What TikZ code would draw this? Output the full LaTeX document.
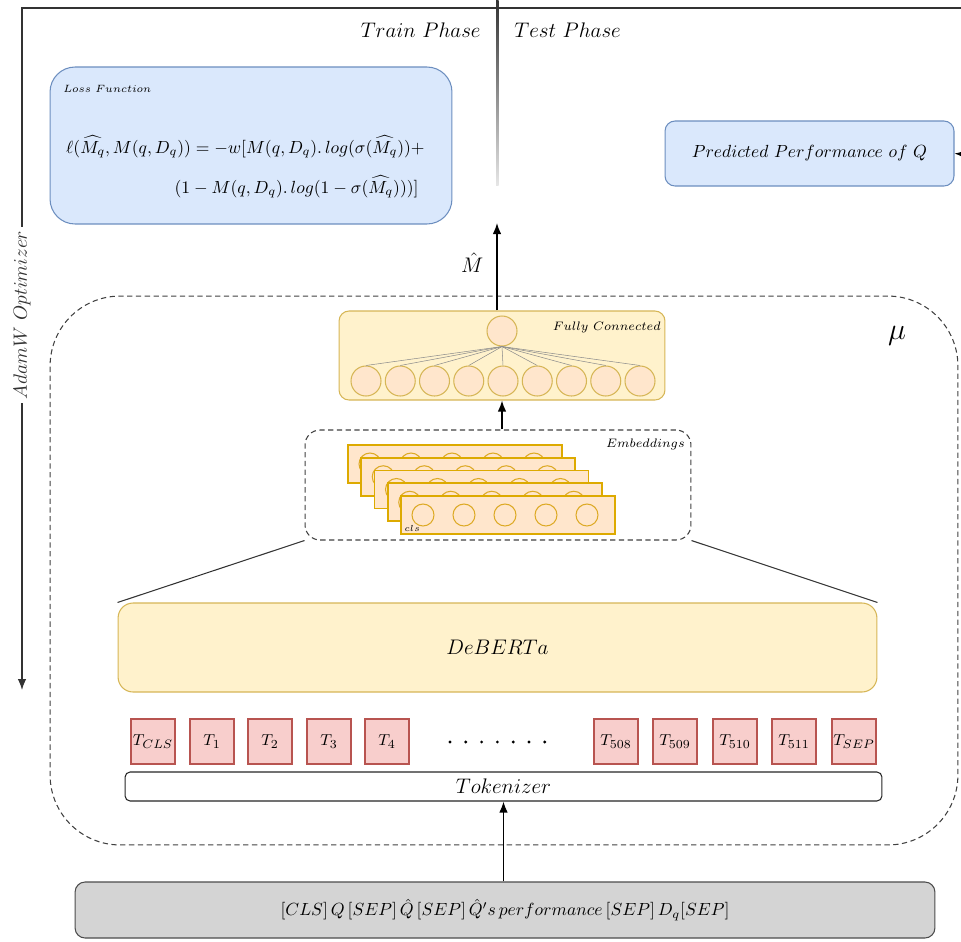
\documentclass[tikz,border=0pt]{standalone}
\usepackage{amsmath,amssymb}
\usepackage{xcolor}
\usetikzlibrary{positioning, arrows.meta, fit, calc}

\definecolor{blueFill}{HTML}{DAE8FC}
\definecolor{blueLine}{HTML}{6C8EBF}
\definecolor{yellowFill}{HTML}{FFF2CC}
\definecolor{yellowLine}{HTML}{D6B656}
\definecolor{orangeFill}{HTML}{FFE6CC}
\definecolor{orangeLine}{HTML}{D79B00}
\definecolor{redFill}{HTML}{F8CECC}
\definecolor{redLine}{HTML}{B85450}
\definecolor{grayFill}{HTML}{D4D4D4}

\begin{document}
\begin{tikzpicture}[x=0.02cm, y=-0.02cm, >={Latex[length=2.2mm, width=1.7mm]}, line width=0.6pt,
    bluebox/.style={draw=blueLine, fill=blueFill, inner sep=0pt},
    yellowbox/.style={draw=yellowLine, fill=yellowFill, inner sep=0pt},
    dashbox/.style={draw=black!75, dash pattern=on 3pt off 2pt, inner sep=0pt},
    tokbox/.style={draw=redLine, fill=redFill, minimum width=0.88cm, minimum height=0.9cm, inner sep=0pt, font=\fontsize{9.5}{11}\selectfont},
    fcunit/.style={circle, draw=yellowLine, fill=orangeFill, minimum size=0.6cm, inner sep=0pt},
    embunit/.style={circle, draw=orangeLine!85, fill=orangeFill, minimum size=0.44cm, inner sep=0pt},
    card/.style={draw=orangeLine!85!yellow, fill=orangeFill, line width=1pt},
    tag/.style={font=\fontsize{7.5}{9}\selectfont, inner sep=1pt},
    txt/.style={font=\fontsize{11.5}{13}\selectfont}]

    \useasboundingbox (0,0) rectangle (961,941);

    % 1. Train / Test split and optimizer loop
    \coordinate (frameTL) at (22,8);
    \coordinate (frameTR) at (961,8);
    \coordinate (optEnd) at (22,690);
    \coordinate (predIn) at (961,154);
    \shade[top color=black!80, bottom color=black!10] (496,0) rectangle (498.5,185);
    \draw[->, black!80, line width=0.7pt] (frameTR) -- (frameTL) -- node[pos=0.45, rotate=90, fill=white, font=\fontsize{10.5}{12}\selectfont, inner sep=2pt] (opt) {$AdamW\ Optimizer$} (optEnd);
    \node[txt, anchor=east] (train) at (487,30) {$Train\ Phase$};
    \node[txt, anchor=west] (test) at (508,30) {$Test\ Phase$};

    % 2. Loss and prediction boxes
    \node[bluebox, rounded corners=0.5cm, minimum width=8.04cm, minimum height=3.14cm] (loss) at (251,145.5) {};
    \node[tag, anchor=west, font=\fontsize{6.5}{8}\selectfont] (lossTag) at (61,89) {$Loss\ Function$};
    \node[anchor=east, font=\fontsize{9.8}{11}\selectfont] (eqA) at (431,147)
        {$\ell(\widehat{M_q}, M(q, D_q)) = -w[M(q, D_q).\,log(\sigma(\widehat{M_q}))+$};
    \node[anchor=east, font=\fontsize{9.8}{11}\selectfont] (eqB) at (425,187)
        {$(1 - M(q, D_q).\,log(1 - \sigma(\widehat{M_q})))]$};
    \node[bluebox, rounded corners=0.2cm, minimum width=5.78cm, minimum height=1.3cm, font=\fontsize{9.6}{11}\selectfont] (pred) at (809.5,153.5) {$Predicted\ Performance\ of\ Q$};
    \draw[->, line width=0.7pt] (predIn) -- (pred.east);

    % 3. Model container
    \node[dashbox, rounded corners=1.4cm, minimum width=18.16cm, minimum height=10.98cm] (mu) at (504,570.5) {};
    \node[font=\fontsize{16}{18}\selectfont] (muTag) at (897,336) {$\mu$};

    % 4. Fully connected head
    \node[yellowbox, rounded corners=0.2cm, minimum width=6.52cm, minimum height=1.78cm] (fc) at (502,355.5) {};
    \node[tag, anchor=east] (fcTag) at (663,327) {$Fully\ Connected$};
    \node[fcunit] (fcOut) at (502,331) {};
    \foreach \k in {0,...,8} {
        \node[fcunit] (fcIn\k) at (366+34.25*\k,381) {};
        \draw[black!45, line width=0.3pt] (fcOut.south) -- (fcIn\k.north);
    }
    \coordinate (mhatTip) at (497,223);
    \draw[->, line width=0.8pt] (fc.north -| mhatTip) -- node[left, txt, pos=0.55, xshift=-4pt] (mhat) {$\hat{M}$} (mhatTip);

    % 5. Embeddings
    \node[dashbox, rounded corners=0.3cm, minimum width=7.72cm, minimum height=2.2cm] (emb) at (498,485) {};
    \node[tag, anchor=east] (embTag) at (687,444) {$Embeddings$};
    \foreach \i in {0,...,4} {
        \pgfmathsetmacro{\cx}{348+13.25*\i}
        \pgfmathsetmacro{\cy}{445+12.75*\i}
        \draw[card] (\cx,\cy) rectangle ++(214,38);
        \foreach \j in {0,...,4}
            \node[embunit] (e\i\j) at (\cx+22+41*\j,\cy+19) {};
    }
    \node[anchor=south west, inner sep=1pt, font=\fontsize{5}{6}\selectfont] (clsTag) at (402,534) {$cls$};
    \draw[->, line width=0.8pt] (fc.south |- emb.north) -- (fc.south);

    % 6. Encoder
    \node[yellowbox, rounded corners=0.3cm, minimum width=15.18cm, minimum height=1.78cm, txt] (deberta) at (497.5,647.5) {$DeBERTa$};
    \draw[black!80] (emb.south west) -- (deberta.north west);
    \draw[black!80] (emb.south east) -- (deberta.north east);

    % 7. Tokens
    \foreach \xx/\lab [count=\n] in {153/{T_{CLS}}, 212/T_1, 270/T_2, 329/T_3, 387/T_4, 616/T_{508}, 675/T_{509}, 735/T_{510}, 794/T_{511}, 854/T_{SEP}}
        \node[tokbox] (tk\n) at (\xx,741.5) {$\lab$};
    \foreach \k in {0,...,6}
        \fill (450+15.8*\k,742) circle (0.9pt);

    \node[draw=black!85, fill=white, rounded corners=0.1cm, minimum width=15.14cm, minimum height=0.58cm, inner sep=0pt, txt] (tok) at (503.5,786.5) {$Tokenizer$};

    % 8. Input sequence
    \node[draw=black!70, fill=grayFill, rounded corners=0.2cm, minimum width=17.2cm, minimum height=1.12cm, inner sep=0pt, font=\fontsize{10.3}{12}\selectfont] (input) at (505,910)
        {$[CLS]\, Q\, [SEP]\, \hat{Q}\, [SEP]\, \hat{Q}'s\, performance\, [SEP]\, D_q[SEP]$};
    \draw[->, line width=0.8pt] (tok.south |- input.north) -- (tok.south);

\end{tikzpicture}
\end{document}
